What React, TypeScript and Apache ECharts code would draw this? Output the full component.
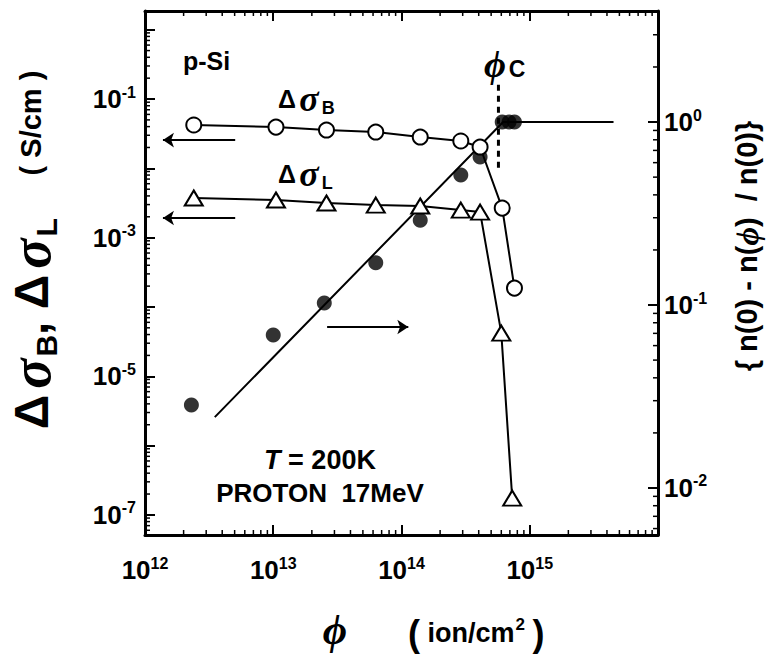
import React, { useEffect, useRef } from "react";
import * as echarts from "echarts";

const SANS = "'Liberation Sans', Arial, Helvetica, sans-serif";
const SERIF = "'Liberation Serif', 'Times New Roman', serif";

// ---- data ----
const FLUENCE_B = [2.4e12, 1.05e13, 2.6e13, 6.3e13, 1.4e14, 2.9e14, 4.1e14, 6.1e14, 7.6e14];
const SIGMA_B = [0.0422, 0.0394, 0.0357, 0.0334, 0.0283, 0.0248, 0.0203, 0.00267, 1.87e-4];
const FLUENCE_L = [2.4e12, 1.05e13, 2.6e13, 6.3e13, 1.4e14, 2.9e14, 4.1e14, 6.0e14, 7.3e14];
const SIGMA_L = [3.73e-3, 3.49e-3, 3.16e-3, 2.95e-3, 2.86e-3, 2.5e-3, 2.34e-3, 4.2e-5, 1.75e-7];
const FLUENCE_N = [2.3e12, 1.0e13, 2.5e13, 6.3e13, 1.4e14, 2.9e14, 4.1e14, 6.1e14, 6.9e14, 7.6e14];
const N_RATIO = [0.0284, 0.0686, 0.1026, 0.17, 0.291, 0.513, 0.644, 1.0, 1.0, 1.0];
const FIT_FLUENCE = [3.5e12, 6.2e14, 4.5e15];
const FIT_RATIO = [0.0244, 1.0, 1.0];
const PHI_C = 5.7e14;
const PHI_C_SPAN = [1.6, 0.55];
const LEFT_ARROW_X = [5.05e12, 1.38e12];
const LEFT_ARROW_Y = [0.0256, 1.92e-3];
const RIGHT_ARROW_X = [2.63e13, 1.13e14];
const RIGHT_ARROW_Y = 0.0758;

// ---- axes ----
const X_RANGE = [1e12, 1e16];
const LEFT_RANGE = [Math.pow(10, -7.29), Math.pow(10, 0.27)];
const RIGHT_RANGE = [Math.pow(10, -2.257), Math.pow(10, 0.607)];
const X_LABEL_EXP = [12, 13, 14, 15];
const LEFT_LABEL_EXP = [-1, -3, -5, -7];
const RIGHT_LABEL_EXP = [0, -1, -2];
const MINOR_STEPS = [2, 3, 4, 5, 6, 7, 8, 9];
const X_DECADES = [12, 13, 14, 15];
const LEFT_DECADES = [-8, -7, -6, -5, -4, -3, -2, -1, 0];
const RIGHT_DECADES = [-3, -2, -1, 0];

const pairs = (xs: number[], ys: number[]) => xs.map((x, i) => [x, ys[i]]);
const minorValues = (decades: number[], range: number[]) =>
  decades
    .flatMap((d) => MINOR_STEPS.map((m) => m * Math.pow(10, d)))
    .filter((v) => v > range[0] && v < range[1]);

function expOf(v: number): number | null {
  const l = Math.log10(v);
  const r = Math.round(l);
  return Math.abs(l - r) < 1e-6 ? r : null;
}

const tickRich = {
  b: { fontFamily: SANS, fontWeight: "bold", fontSize: 26, lineHeight: 26, color: "#000", verticalAlign: "middle" },
  s: { fontFamily: SANS, fontWeight: "bold", fontSize: 16, lineHeight: 16, color: "#000", verticalAlign: "middle", padding: [0, 0, 14, 0] },
};
const labelFor = (allowed: number[]) => (v: number) => {
  const e = expOf(v);
  if (e === null || !allowed.includes(e)) return "";
  return `{b|10}{s|${e}}`;
};

const axisLineStyle = { show: true, lineStyle: { color: "#000", width: 3 } };
const axisTickStyle = { show: true, inside: true, length: 10, lineStyle: { color: "#000", width: 2 } };

function minorTickSeries(values: number[], side: "x" | "left" | "right") {
  const yAxisIndex = side === "right" ? 1 : 0;
  return {
    type: "custom",
    xAxisIndex: 0,
    yAxisIndex,
    silent: true,
    clip: false,
    z: 10,
    data: values.map((v) => (side === "x" ? [v, 1e-3] : [1e13, v])),
    renderItem: (params: any, api: any) => {
      const cs = params.coordSys;
      const pt = api.coord([api.value(0), api.value(1)]);
      const len = 5;
      const st = { stroke: "#000", lineWidth: 1.5 };
      if (side === "x") {
        const x = pt[0];
        return {
          type: "group",
          children: [
            { type: "line", shape: { x1: x, y1: cs.y + cs.height, x2: x, y2: cs.y + cs.height - len }, style: st },
            { type: "line", shape: { x1: x, y1: cs.y, x2: x, y2: cs.y + len }, style: st },
          ],
        };
      }
      const y = pt[1];
      if (side === "left") {
        return { type: "line", shape: { x1: cs.x, y1: y, x2: cs.x + len, y2: y }, style: st };
      }
      return { type: "line", shape: { x1: cs.x + cs.width, y1: y, x2: cs.x + cs.width - len, y2: y }, style: st };
    },
  };
}

const sigmaRich = {
  d: { fontFamily: SANS, fontWeight: "bold", fontSize: 25, lineHeight: 25, fill: "#000", verticalAlign: "middle" },
  g: { fontFamily: SANS, fontSize: 12, lineHeight: 12, fill: "#000", verticalAlign: "middle" },
  s: { fontFamily: SERIF, fontWeight: "bold", fontStyle: "italic", fontSize: 36, lineHeight: 36, fill: "#000", verticalAlign: "middle" },
  u: { fontFamily: SANS, fontWeight: "bold", fontSize: 18, lineHeight: 18, fill: "#000", verticalAlign: "middle", padding: [18, 0, 0, 3] },
};

function buildOption() {
  const black = "#000";
  return {
    animation: false,
    backgroundColor: "#fff",
    grid: { left: 145, top: 11, width: 513, height: 524, containLabel: false, outerBoundsMode: "none" },
    xAxis: [
      {
        type: "log",
        logBase: 10,
        min: X_RANGE[0],
        max: X_RANGE[1],
        position: "bottom",
        axisLine: axisLineStyle,
        axisTick: axisTickStyle,
        splitLine: { show: false },
        axisLabel: { margin: 22, formatter: labelFor(X_LABEL_EXP), rich: tickRich },
      },
      {
        type: "log",
        logBase: 10,
        min: X_RANGE[0],
        max: X_RANGE[1],
        position: "top",
        axisLine: axisLineStyle,
        axisTick: axisTickStyle,
        splitLine: { show: false },
        axisLabel: { show: false },
      },
    ],
    yAxis: [
      {
        type: "log",
        logBase: 10,
        min: LEFT_RANGE[0],
        max: LEFT_RANGE[1],
        position: "left",
        axisLine: axisLineStyle,
        axisTick: axisTickStyle,
        splitLine: { show: false },
        axisLabel: { margin: 9, formatter: labelFor(LEFT_LABEL_EXP), rich: tickRich },
      },
      {
        type: "log",
        logBase: 10,
        min: RIGHT_RANGE[0],
        max: RIGHT_RANGE[1],
        position: "right",
        axisLine: axisLineStyle,
        axisTick: axisTickStyle,
        splitLine: { show: false },
        axisLabel: { margin: 6, formatter: labelFor(RIGHT_LABEL_EXP), rich: tickRich },
      },
    ],
    series: [
      minorTickSeries(minorValues(X_DECADES, X_RANGE), "x"),
      minorTickSeries(minorValues(LEFT_DECADES, LEFT_RANGE), "left"),
      minorTickSeries(minorValues(RIGHT_DECADES, RIGHT_RANGE), "right"),
      {
        name: "fit",
        type: "line",
        xAxisIndex: 0,
        yAxisIndex: 1,
        data: pairs(FIT_FLUENCE, FIT_RATIO),
        symbol: "none",
        lineStyle: { color: black, width: 2 },
        z: 2,
        markLine: {
          silent: true,
          symbol: ["none", "arrow"],
          symbolSize: 11,
          label: { show: false },
          lineStyle: { color: black, width: 1.8, type: "solid" },
          data: [[{ coord: [RIGHT_ARROW_X[0], RIGHT_ARROW_Y] }, { coord: [RIGHT_ARROW_X[1], RIGHT_ARROW_Y] }]],
        },
      },
      {
        name: "phiC",
        type: "line",
        xAxisIndex: 0,
        yAxisIndex: 1,
        data: [[PHI_C, PHI_C_SPAN[0]], [PHI_C, PHI_C_SPAN[1]]],
        symbol: "none",
        lineStyle: { color: black, width: 3, type: [6, 5] },
        z: 2,
      },
      {
        name: "sigmaB",
        type: "line",
        xAxisIndex: 0,
        yAxisIndex: 0,
        data: pairs(FLUENCE_B, SIGMA_B),
        symbol: "circle",
        symbolSize: 15,
        showAllSymbol: true,
        itemStyle: { color: "#fff", borderColor: black, borderWidth: 2 },
        lineStyle: { color: black, width: 2 },
        z: 4,
        markLine: {
          silent: true,
          symbol: ["none", "arrow"],
          symbolSize: 11,
          label: { show: false },
          lineStyle: { color: black, width: 1.8, type: "solid" },
          data: LEFT_ARROW_Y.map((y) => [{ coord: [LEFT_ARROW_X[0], y] }, { coord: [LEFT_ARROW_X[1], y] }]),
        },
      },
      {
        name: "sigmaL",
        type: "line",
        xAxisIndex: 0,
        yAxisIndex: 0,
        data: pairs(FLUENCE_L, SIGMA_L),
        symbol: "triangle",
        symbolSize: [18, 15],
        showAllSymbol: true,
        itemStyle: { color: "#fff", borderColor: black, borderWidth: 2 },
        lineStyle: { color: black, width: 2 },
        z: 4,
      },
      {
        name: "ratio",
        type: "scatter",
        xAxisIndex: 0,
        yAxisIndex: 1,
        data: pairs(FLUENCE_N, N_RATIO),
        symbol: "circle",
        symbolSize: 15,
        itemStyle: { color: black },
        z: 3,
      },
    ],
    graphic: [
      {
        type: "text",
        x: 183,
        y: 61,
        style: { text: "p-Si", fill: black, fontFamily: SANS, fontWeight: "bold", fontSize: 25, align: "left", verticalAlign: "middle" },
      },
      {
        type: "text",
        x: 278,
        y: 99,
        style: { text: "{d|Δ}{g| }{s|σ}{u|B}", fill: black, fontSize: 22, align: "left", verticalAlign: "middle", rich: sigmaRich },
      },
      {
        type: "text",
        x: 278,
        y: 174,
        style: { text: "{d|Δ}{g| }{s|σ}{u|L}", fill: black, fontSize: 22, align: "left", verticalAlign: "middle", rich: sigmaRich },
      },
      {
        type: "text",
        x: 484,
        y: 64,
        style: {
          text: "{p|ϕ}{g| }{c|C}",
          fill: black,
          fontSize: 20,
          align: "left",
          verticalAlign: "middle",
          rich: {
            p: { fontFamily: SERIF, fontStyle: "italic", fontWeight: "bold", fontSize: 38, lineHeight: 38, fill: black, verticalAlign: "middle" },
            g: { fontFamily: SANS, fontSize: 10, lineHeight: 10, fill: black, verticalAlign: "middle" },
            c: { fontFamily: SANS, fontWeight: "bold", fontSize: 23, lineHeight: 23, fill: black, verticalAlign: "middle", padding: [10, 0, 0, 0] },
          },
        },
      },
      {
        type: "text",
        x: 320,
        y: 460,
        style: {
          text: "{t|T}{n| = 200K}",
          fill: black,
          fontSize: 26,
          align: "center",
          verticalAlign: "middle",
          rich: {
            t: { fontFamily: SANS, fontStyle: "italic", fontWeight: "bold", fontSize: 27, fill: black, verticalAlign: "middle" },
            n: { fontFamily: SANS, fontWeight: "bold", fontSize: 27, fill: black, verticalAlign: "middle" },
          },
        },
      },
      {
        type: "text",
        x: 320,
        y: 493,
        style: { text: "PROTON  17MeV", fill: black, fontFamily: SANS, fontWeight: "bold", fontSize: 26, align: "center", verticalAlign: "middle" },
      },
      {
        type: "text",
        x: 31,
        y: 250,
        rotation: Math.PI / 2,
        style: {
          text: "{d|Δ}{g| }{s|σ}{u|B}{d|,}{g|  }{d|Δ}{g| }{s|σ}{u|L}{g|       }{p|( S/cm )}",
          fill: black,
          fontSize: 26,
          align: "center",
          verticalAlign: "middle",
          rich: {
            d: { fontFamily: SANS, fontWeight: "bold", fontSize: 48, lineHeight: 48, fill: black, verticalAlign: "middle" },
            g: { fontFamily: SANS, fontSize: 22, lineHeight: 22, fill: black, verticalAlign: "middle" },
            s: { fontFamily: SERIF, fontWeight: "bold", fontStyle: "italic", fontSize: 56, lineHeight: 56, fill: black, verticalAlign: "middle" },
            u: { fontFamily: SANS, fontWeight: "bold", fontSize: 30, lineHeight: 30, fill: black, verticalAlign: "middle", padding: [30, 0, 0, 2] },
            p: { fontFamily: SANS, fontWeight: "bold", fontSize: 29, lineHeight: 29, fill: black, verticalAlign: "middle" },
          },
        },
      },
      {
        type: "text",
        x: 747,
        y: 246,
        rotation: Math.PI / 2,
        style: {
          text: "{t|{ n(0) - n(}{p|ϕ}{t|) } / n(0)}",
          fill: black,
          fontFamily: SANS,
          fontWeight: "bold",
          fontSize: 29,
          align: "center",
          verticalAlign: "middle",
          rich: {
            t: { fontFamily: SANS, fontWeight: "bold", fontSize: 29, lineHeight: 32, fill: black, verticalAlign: "middle" },
            p: { fontFamily: SERIF, fontWeight: "bold", fontStyle: "italic", fontSize: 32, lineHeight: 32, fill: black, verticalAlign: "middle" },
          },
        },
      },
      {
        type: "text",
        x: 335,
        y: 630,
        style: { text: "ϕ", fill: black, fontFamily: SERIF, fontStyle: "italic", fontWeight: "bold", fontSize: 42, lineHeight: 42, align: "center", verticalAlign: "middle" },
      },
      {
        type: "text",
        x: 408,
        y: 633,
        style: {
          text: "{q|(}{t| ion/cm}{s|2}{t| }{q|)}",
          fill: black,
          fontSize: 26,
          align: "left",
          verticalAlign: "middle",
          rich: {
            q: { fontFamily: SANS, fontWeight: "bold", fontSize: 36, lineHeight: 36, fill: black, verticalAlign: "middle" },
            t: { fontFamily: SANS, fontWeight: "bold", fontSize: 27, lineHeight: 27, fill: black, verticalAlign: "middle" },
            s: { fontFamily: SANS, fontWeight: "bold", fontSize: 17, lineHeight: 17, fill: black, verticalAlign: "middle", padding: [0, 0, 18, 1] },
          },
        },
      },
    ],
  };
}

export default function App() {
  const ref = useRef<HTMLDivElement>(null);
  useEffect(() => {
    if (!ref.current) return;
    const chart = echarts.init(ref.current, undefined, { renderer: "svg" });
    chart.setOption(buildOption() as any);
    return () => chart.dispose();
  }, []);
  return (
    <div
      ref={ref}
      style={{ position: "fixed", left: 0, top: 0, width: 767, height: 656, background: "#fff" }}
    />
  );
}
